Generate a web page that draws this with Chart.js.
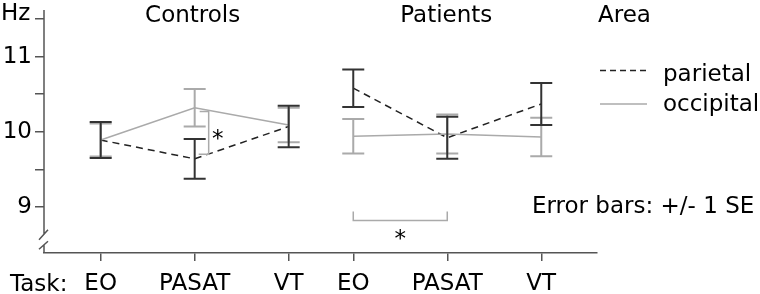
<!DOCTYPE html>
<html>
<head>
<meta charset="utf-8">
<script src="https://cdn.jsdelivr.net/npm/chart.js@4.4.1/dist/chart.umd.min.js"></script>
<style>
    body { margin: 0; background: #fff; }
    canvas { display: block; }
</style>
</head>
<body>
<canvas id="freqChart" width="760" height="294"></canvas>
<script>
// Data (mean peak frequency, Hz, and +/- 1 SE)
const groups = ["Controls", "Patients"]
const tasks = ["EO", "PASAT", "VT"]

const parietalMean = [9.89, 9.64, 10.07, 10.58, 9.92, 10.37]
const parietalSE = [0.24, 0.265, 0.275, 0.25, 0.28, 0.28]
const occipitalMean = [9.89, 10.32, 10.09, 9.94, 9.97, 9.93]
const occipitalSE = [0.22, 0.25, 0.23, 0.23, 0.26, 0.255]

const yTicks = [9, 9.5, 10, 10.5, 11, 11.5]

// significance brackets: [from task index, to task index, value a, value b]
const sigControls = [1, 1, 10.27, 9.70]
const sigPatients = [3, 4, 8.94, 8.82]

const FONT = "DejaVu Sans"
const DARK = "#333"
const GREY = "#aaa"
const AXIS = "#555"

// where each task sits on the x axis (small gap between the two groups)
const groupStep = 2.687
const xPos = (i) => (i % 3) + 1 + Math.floor(i / 3) * groupStep
const xTicks = parietalMean.map((v, i) => xPos(i))
const xLabels = groups.flatMap(() => tasks)

function seriesFor(means, group) {
    const out = []
    means.forEach((m, i) => {
        if (Math.floor(i / 3) === group) out.push({ x: xPos(i), y: m })
    })
    return out
}

const dashedLine = { borderColor: "#222", borderWidth: 1.5, borderDash: [7, 5], pointRadius: 0, fill: false }
const greyLine = { borderColor: GREY, borderWidth: 1.5, pointRadius: 0, fill: false }

// error bars, brackets, labels and legend
const decorations = {
    id: "decorations",
    afterDatasetsDraw(chart) {
        const c = chart.ctx
        const xs = chart.scales.x
        const ys = chart.scales.y
        const area = chart.chartArea

        function errBars(means, ses, color) {
            c.save()
            c.strokeStyle = color
            c.lineWidth = 2
            means.forEach((m, i) => {
                const px = xs.getPixelForValue(xPos(i))
                const top = ys.getPixelForValue(m + ses[i])
                const bot = ys.getPixelForValue(m - ses[i])
                c.beginPath()
                c.moveTo(px, top); c.lineTo(px, bot)
                c.moveTo(px - 11, top); c.lineTo(px + 11, top)
                c.moveTo(px - 11, bot); c.lineTo(px + 11, bot)
                c.stroke()
            })
            c.restore()
        }
        errBars(occipitalMean, occipitalSE, GREY)
        errBars(parietalMean, parietalSE, DARK)

        // y axis with a break near the bottom
        const yx = area.left
        const b1 = ys.getPixelForValue(8.63)
        const b2 = ys.getPixelForValue(8.49)
        c.save()
        c.strokeStyle = AXIS
        c.lineWidth = 1.5
        c.beginPath()
        c.moveTo(yx, area.top); c.lineTo(yx, b1)
        c.moveTo(yx, b2); c.lineTo(yx, area.bottom)
        c.moveTo(yx - 5, b1 + 5); c.lineTo(yx + 4, b1 - 5)
        c.moveTo(yx - 5, b2 + 4); c.lineTo(yx + 4, b2 - 4)
        c.stroke()
        c.restore()

        // significance brackets
        c.save()
        c.strokeStyle = GREY
        c.lineWidth = 1.5
        let bx = xs.getPixelForValue(xPos(sigControls[0])) + 14
        let t = ys.getPixelForValue(sigControls[2])
        let b = ys.getPixelForValue(sigControls[3])
        c.beginPath()
        c.moveTo(bx - 9, t); c.lineTo(bx, t); c.lineTo(bx, b); c.lineTo(bx - 10, b)
        c.stroke()
        const pl = xs.getPixelForValue(xPos(sigPatients[0]))
        const pr = xs.getPixelForValue(xPos(sigPatients[1]))
        const up = ys.getPixelForValue(sigPatients[2])
        const lo = ys.getPixelForValue(sigPatients[3])
        c.beginPath()
        c.moveTo(pl, up); c.lineTo(pl, lo); c.lineTo(pr, lo); c.lineTo(pr, up)
        c.stroke()
        c.restore()

        c.save()
        c.fillStyle = "#000"
        c.font = "23px '" + FONT + "'"
        c.textBaseline = "alphabetic"
        c.textAlign = "center"
        c.fillText("*", bx + 9, (t + b) / 2 + 13)
        c.fillText("*", (pl + pr) / 2, lo + 26)

        // group headings
        const mid0 = xs.getPixelForValue(xPos(1))
        const mid1 = xs.getPixelForValue(xPos(4))
        c.fillText(groups[0], mid0 - 2, 22)
        c.fillText(groups[1], mid1 - 1, 22)

        c.textAlign = "left"
        c.fillText("Hz", 1, 20)
        c.fillText("Area", 598, 22)
        c.fillText("parietal", 663, 81)
        c.fillText("occipital", 663, 111)
        c.fillText("Error bars: +/- 1 SE", 532, 213)
        c.fillText("Task:", 10, 291)
        c.restore()

        // legend samples
        c.save()
        c.lineWidth = 1.5
        c.strokeStyle = "#222"
        c.setLineDash([6, 4])
        c.beginPath(); c.moveTo(600, 70.5); c.lineTo(647, 70.5); c.stroke()
        c.setLineDash([])
        c.strokeStyle = GREY
        c.beginPath(); c.moveTo(600, 104); c.lineTo(647, 104); c.stroke()
        c.restore()
    },
}

const ctx = document.getElementById("freqChart").getContext("2d")

const freqChart = new Chart(ctx, {
    type: "line",
    data: {
        datasets: [
            { label: "occipital", data: seriesFor(occipitalMean, 0), ...greyLine },
            { label: "occipital", data: seriesFor(occipitalMean, 1), ...greyLine },
            { label: "parietal", data: seriesFor(parietalMean, 0), ...dashedLine },
            { label: "parietal", data: seriesFor(parietalMean, 1), ...dashedLine },
        ],
    },
    options: {
        responsive: false,
        animation: false,
        devicePixelRatio: 1,
        layout: { padding: { top: 10, right: 163, left: 0, bottom: 0 } },
        plugins: { legend: { display: false }, tooltip: { enabled: false } },
        scales: {
            x: {
                type: "linear",
                min: 0.397,
                max: 6.28,
                afterBuildTicks: (scale) => {
                    scale.ticks = xTicks.map((v) => ({ value: v }))
                },
                afterFit: (scale) => {
                    scale.height = 41
                    scale.paddingLeft = 0
                    scale.paddingRight = 0
                },
                ticks: {
                    autoSkip: false,
                    maxRotation: 0,
                    padding: 9,
                    color: "#000",
                    font: { family: FONT, size: 23 },
                    callback: (value, index) => xLabels[index],
                },
                grid: { display: true, drawOnChartArea: false, tickLength: 8, color: AXIS, lineWidth: 1.5 },
                border: { display: true, color: AXIS, width: 1.5 },
            },
            y: {
                min: 8.387,
                max: 11.62,
                afterBuildTicks: (scale) => {
                    scale.ticks = yTicks.map((v) => ({ value: v }))
                },
                afterFit: (scale) => {
                    scale.width = 44
                    scale.paddingTop = 0
                    scale.paddingBottom = 0
                },
                ticks: {
                    padding: 3,
                    color: "#000",
                    font: { family: FONT, size: 23 },
                    callback: (value) => (Number.isInteger(value) ? value : ""),
                },
                grid: { display: true, drawOnChartArea: false, tickLength: 9, color: AXIS, lineWidth: 1.5 },
                border: { display: false },
            },
        },
    },
    plugins: [decorations],
})
</script>
</body>
</html>
